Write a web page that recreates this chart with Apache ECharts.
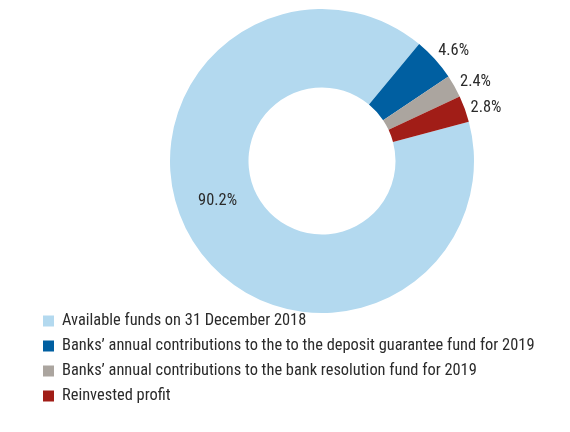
<!DOCTYPE html>
<html>
<head>
<meta charset="utf-8">
<script src="https://cdn.jsdelivr.net/npm/echarts@6/dist/echarts.min.js"></script>
<style>
  html, body { margin: 0; padding: 0; background: #fff; }
  #chart { width: 570px; height: 432px; }
</style>
</head>
<body>
<div id="chart"></div>
<script>
// Sources of funds, shares in percent
var categories = [
  'Available funds on 31 December 2018',
  'Banks\u2019 annual contributions to the to the deposit guarantee fund for 2019',
  'Banks\u2019 annual contributions to the bank resolution fund for 2019',
  'Reinvested profit'
];
var shares = [90.2, 4.6, 2.4, 2.8];
var colors = ['#b3d9ef', '#005fa1', '#aba59f', '#a11d17'];

// small nudges for the value labels around the ring
var labelOffsets = [[-7, -23], [-4, -6], [-2, -3], [-2, 0]];

var FONT = '"Roboto Condensed", Roboto, "Liberation Sans", sans-serif';

var chart = echarts.init(document.getElementById('chart'), null, { renderer: 'canvas' });

var data = categories.map(function (name, i) {
  var item = {
    name: name,
    value: shares[i],
    itemStyle: { color: colors[i] },
    label: { offset: labelOffsets[i] }
  };
  if (i === 0) {
    item.label.position = 'inside';
  }
  return item;
});

chart.setOption({
  animation: false,
  legend: {
    orient: 'vertical',
    left: 43,
    top: 313,
    height: 110,
    padding: 0,
    itemWidth: 11,
    itemHeight: 11,
    itemGap: 9,
    icon: 'rect',
    selectedMode: false,
    data: categories,
    textStyle: {
      fontFamily: FONT,
      fontSize: 16.4,
      lineHeight: 14,
      color: '#2b2b2b',
      padding: [0, 0, 0, 3]
    }
  },
  series: [{
    type: 'pie',
    center: [322, 161],
    radius: [73.5, 152],
    startAngle: 15,
    clockwise: true,
    avoidLabelOverlap: false,
    label: {
      show: true,
      position: 'outside',
      formatter: function (p) { return p.value.toFixed(1) + '%'; },
      fontFamily: FONT,
      fontSize: 16.4,
      color: '#2b2b2b'
    },
    labelLine: { show: false, length: 3, length2: 0 },
    emphasis: { disabled: true },
    data: data
  }]
});
</script>
</body>
</html>
